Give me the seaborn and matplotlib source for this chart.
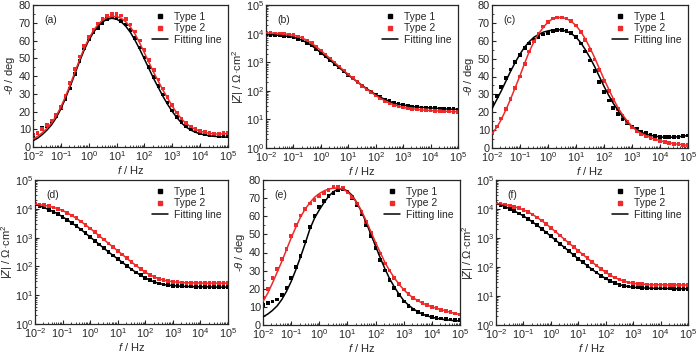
import numpy as np
import pandas as pd
import matplotlib
matplotlib.use("Agg")
import matplotlib.pyplot as plt
from matplotlib.lines import Line2D
from matplotlib.ticker import LogLocator, MultipleLocator, NullFormatter
import seaborn as sns

# frequency points (Hz), 6 per decade
freq = [0.01, 0.0147, 0.0215, 0.0316, 0.0464, 0.0681,
        0.1, 0.147, 0.215, 0.316, 0.464, 0.681,
        1, 1.47, 2.15, 3.16, 4.64, 6.81,
        10, 14.7, 21.5, 31.6, 46.4, 68.1,
        100, 147, 215, 316, 464, 681,
        1000, 1470, 2150, 3160, 4640, 6810,
        10000, 14700, 21500, 31600, 46400, 68100, 100000]

# (a) phase, deg
a_t1 = [6, 8, 11, 12, 14, 17.5, 22, 27, 33, 41, 48.5, 55.5, 61, 64.5, 67, 70, 72, 73, 72.5, 71, 69, 66,
        61.5, 56, 50.5, 45, 39.5, 34.5, 29.5, 25, 20.5, 17, 14, 11.5, 9.8, 8.7, 7.8, 7.2, 6.8, 6.5, 6.3, 6.2, 6]
a_t2 = [7, 8, 10, 12.5, 15, 18, 22.5, 29, 36, 44, 51, 57, 62, 66, 69.5, 72, 74, 75, 75, 74, 72, 69,
        65, 60, 54.5, 49, 43.5, 38, 33, 28, 23.5, 19.5, 16, 13.5, 11.5, 10, 9, 8.3, 7.8, 7.5, 7.5, 7.7, 8]
a_fit1 = [3.5, 5, 7, 9.5, 12.5, 16.5, 21.5, 27.5, 34, 41, 48, 54.5, 60, 64.5, 68, 70.5, 72, 72.5, 72, 70.5,
          68, 64.5, 60, 55, 49.5, 44, 38.5, 33.5, 28.5, 24, 20, 16.5, 13.5, 11.2, 9.5, 8.3, 7.4, 6.8, 6.3, 6,
          5.8, 5.6, 5.5]
a_fit2 = [4.5, 6, 8, 10.5, 13.5, 17.5, 22.5, 28.5, 35, 42, 49, 55.5, 61, 65.5, 69, 71.5, 73, 73.5, 73.5, 72.5,
          70.5, 67.5, 63.5, 58.5, 53, 47.5, 42, 37, 32, 27.5, 23, 19, 15.8, 13.2, 11.3, 9.9, 8.9, 8.2, 7.7, 7.4,
          7.3, 7.4, 7.6]

# (b) |Z|, ohm cm2
b_t1 = [9330, 9120, 8910, 8710, 8320, 7940, 7410, 6610, 5750, 4790, 3800, 2880, 2140, 1580, 1170, 871, 646,
        479, 355, 269, 204, 155, 120, 93, 74, 60, 50, 43, 37, 34, 32, 29.5, 28.2, 26.9, 26.3, 25.7, 25.1, 24.5,
        24.0, 23.4, 22.9, 22.6, 22.4]
b_t2 = [10700, 10500, 10200, 10000, 9770, 9330, 8710, 7940, 6920, 5750, 4570, 3470, 2570, 1860, 1350, 977,
        708, 513, 372, 275, 204, 151, 115, 89, 69, 55, 45, 37, 32, 29, 26.3, 24.5, 23.4, 22.4, 21.4, 20.9, 20.4,
        20.0, 19.5, 19.1, 19.1, 18.6, 18.6]

# (c) phase, deg
c_t1 = [25, 29, 34, 39, 44, 48, 52, 56, 58.5, 60.5, 62, 63.5, 64.5, 65.5, 66, 66, 65.5, 64.5, 62, 58.5, 54,
        49, 43, 37, 31.5, 26.5, 22.5, 19, 16, 14, 12, 10.5, 9.3, 8.3, 7.3, 6.6, 6.2, 6, 6, 6, 6.3, 6.6, 7]
c_t2 = [8.5, 12, 16.5, 22, 27.5, 33.5, 40, 47, 54, 59.5, 64, 68, 70.5, 72.5, 73, 73, 72.5, 71, 68.5, 65,
        60.5, 55, 49.5, 43.5, 37.5, 32, 27, 22, 18, 14.5, 11.5, 9.5, 8, 6.8, 5.7, 4.8, 4, 3.3, 2.8, 2.4, 2.1,
        1.8, 1.5]
c_fit1 = [22, 27, 32, 37.5, 43, 48, 52.5, 56.5, 59.5, 62, 63.5, 64.8, 65.5, 66, 66.2, 66, 65.3, 64, 62, 59,
          55, 50.5, 45.5, 40, 34.5, 29.5, 25, 21, 17.5, 14.5, 12, 10.2, 8.8, 7.8, 7.1, 6.6, 6.2, 6, 6, 6.1,
          6.3, 6.6, 7]
c_fit2 = [8, 11.5, 16, 21.5, 27.5, 34, 40.5, 47.5, 54, 59.5, 64, 67.5, 70.5, 72.3, 73, 73, 72.3, 70.8, 68.5,
          65.2, 61, 56, 50.5, 44.5, 38.5, 33, 27.5, 22.5, 18.5, 15, 12, 9.8, 8.2, 6.9, 5.8, 4.9, 4.1, 3.4, 2.9,
          2.4, 2.1, 1.8, 1.5]

# (d) |Z|, ohm cm2
d_t1 = [14100, 12600, 11000, 9330, 7940, 6610, 5250, 4170, 3240, 2510, 1910, 1410, 1050, 776, 575, 427, 316,
        240, 182, 138, 105, 79, 62, 49, 40, 33, 28.8, 25.7, 23.4, 22.4, 21.4, 20.9, 20.4, 20.0, 20.0, 19.5,
        19.5, 19.5, 19.5, 19.1, 19.1, 19.1, 19.1]
d_t2 = [14500, 13800, 13200, 12300, 11200, 10000, 8710, 7240, 5890, 4680, 3630, 2750, 2090, 1550, 1150, 851,
        631, 468, 347, 257, 191, 141, 107, 81, 63, 51, 42.7, 37.2, 33.1, 30.9, 29.5, 28.2, 27.5, 26.9, 26.9,
        26.9, 26.3, 26.3, 26.3, 26.3, 26.3, 26.3, 26.3]

# (e) phase, deg
e_t1 = [11, 12, 13, 14, 16.5, 20.5, 26, 32, 38, 46, 54, 60, 65, 68.5, 71, 73, 74.5, 75, 73.5, 70, 66, 61,
        55, 49, 42.5, 36, 30, 25, 20.5, 16.5, 13, 10.5, 8.5, 7, 6, 5.2, 4.5, 4, 3.6, 3.3, 3, 2.8, 2.6]
e_t2 = [15, 20, 26, 31, 36.5, 42, 49, 55, 60.5, 64, 67, 69, 71, 73, 74.5, 76, 76, 75.5, 73.5, 70.5, 67,
        62.5, 57, 51, 45, 39.5, 34, 30, 26, 22.5, 19.5, 17, 15, 13.5, 12, 11, 10, 9.2, 8.4, 7.7, 7, 6.3, 5.8]
e_fit1 = [4.5, 6, 8, 10.5, 14, 18.5, 24, 30.5, 37.5, 45, 53, 59, 63.5, 67.5, 71, 73.5, 75, 75, 74, 71.5,
          67.5, 62.5, 56.5, 50, 43.5, 37, 31, 25.5, 21, 17, 13.5, 11, 9, 7.3, 6, 5, 4.3, 3.7, 3.2, 2.9, 2.6,
          2.4, 2.2]
e_fit2 = [13, 17.5, 23, 29, 35, 41.5, 48, 54, 59.5, 64, 67.5, 70.5, 72.5, 74, 75, 75.5, 75.5, 75, 73.5, 71,
          67.5, 63, 57.5, 51.5, 45.5, 40, 34.5, 30, 26, 22.5, 19.5, 17, 15, 13.5, 12, 11, 10, 9.2, 8.4, 7.7,
          7, 6.3, 5.8]

# (f) |Z|, ohm cm2
f_t1 = [15500, 13800, 12000, 10200, 8510, 7080, 5750, 4570, 3550, 2750, 2090, 1550, 1150, 851, 631, 468,
        347, 257, 191, 145, 110, 83, 64, 50, 40, 33, 28.2, 24.5, 22.4, 21.0, 20.0, 19.5, 19.1, 18.6, 18.6,
        18.2, 18.2, 18.2, 18.2, 17.8, 17.8, 17.8, 17.8]
f_t2 = [15500, 15000, 14100, 13200, 12000, 10700, 9330, 7940, 6460, 5130, 3980, 3020, 2240, 1660, 1230, 891,
        661, 490, 363, 269, 200, 148, 112, 85, 66, 52, 43, 37, 32.4, 29.5, 27.5, 26.3, 25.7, 25.1, 24.5,
        24.5, 24.5, 24.5, 24.0, 24.0, 24.0, 24.0, 24.0]

series = ["Type 1", "Type 2"]
pal = {"Type 1": "#000000", "Type 2": "#ee2a2a"}

sns.set_style("ticks")
plt.rcParams["font.family"] = ["Liberation Sans", "DejaVu Sans"]
plt.rcParams["mathtext.fontset"] = "custom"
plt.rcParams["mathtext.rm"] = "Liberation Sans"
plt.rcParams["mathtext.it"] = "Liberation Sans:italic"
plt.rcParams["axes.linewidth"] = 0.9

W, H = 700, 356
fig = plt.figure(figsize=(7, 3.56), dpi=100)


def make_ax(l, r, t, b):
    return fig.add_axes([l / W, 1 - b / H, (r - l) / W, (b - t) / H])


def frame(v1, v2):
    return pd.DataFrame({"f": freq + freq, "val": v1 + v2,
                         "type": [series[0]] * len(freq) + [series[1]] * len(freq)})


def panel(ax, label, t1, t2, fit1, fit2, kind):
    sns.scatterplot(data=frame(t1, t2), x="f", y="val", hue="type", palette=pal,
                    marker="s", s=7, linewidth=0, legend=False, ax=ax, zorder=2)
    sns.lineplot(data=frame(fit1, fit2), x="f", y="val", hue="type", palette=pal,
                 linewidth=1.1, legend=False, ax=ax, estimator=None, zorder=3)
    ax.set_xscale("log")
    ax.set_xlim(0.01, 1e5)
    ax.xaxis.set_major_locator(LogLocator(base=10, numticks=10))
    ax.xaxis.set_minor_locator(LogLocator(base=10, subs=np.arange(2, 10), numticks=10))
    ax.xaxis.set_minor_formatter(NullFormatter())
    if kind == "phase":
        ax.set_ylim(0, 80)
        ax.yaxis.set_major_locator(MultipleLocator(10))
        ax.yaxis.set_minor_locator(MultipleLocator(5))
        ax.set_ylabel(r"-$\theta$ / deg", fontsize=8, labelpad=1)
    else:
        ax.set_yscale("log")
        ax.set_ylim(1, 1e5)
        ax.yaxis.set_major_locator(LogLocator(base=10, numticks=10))
        ax.yaxis.set_minor_locator(LogLocator(base=10, subs=np.arange(2, 10), numticks=10))
        ax.yaxis.set_minor_formatter(NullFormatter())
        ax.set_ylabel(r"|$Z$| / $\Omega$·cm$^2$", fontsize=8, labelpad=0)
    ax.set_xlabel(r"$f$ / Hz", fontsize=8, labelpad=1)
    ax.tick_params(which="major", direction="in", length=3, width=0.8, labelsize=7.8, pad=1.5)
    ax.tick_params(which="minor", direction="in", length=1.6, width=0.6)
    ax.text(0.06, 0.93, label, transform=ax.transAxes, fontsize=7.5, va="top")
    handles = [Line2D([], [], marker="s", ls="none", color=pal["Type 1"], ms=3),
               Line2D([], [], marker="s", ls="none", color=pal["Type 2"], ms=3),
               Line2D([], [], color="k", lw=1.1)]
    ax.legend(handles, ["Type 1", "Type 2", "Fitting line"], loc="upper right", frameon=False,
              fontsize=7.5, handlelength=1.6, handletextpad=0.5, labelspacing=0.15,
              borderaxespad=0.25)


panel(make_ax(33, 228, 5, 147), "(a)", a_t1, a_t2, a_fit1, a_fit2, "phase")
panel(make_ax(266, 458, 5, 148), "(b)", b_t1, b_t2, b_t1, b_t2, "mod")
panel(make_ax(492, 688, 5, 148), "(c)", c_t1, c_t2, c_fit1, c_fit2, "phase")
panel(make_ax(35, 228, 180, 324), "(d)", d_t1, d_t2, d_t1, d_t2, "mod")
panel(make_ax(263, 460, 180, 325), "(e)", e_t1, e_t2, e_fit1, e_fit2, "phase")
panel(make_ax(496, 688, 180, 325), "(f)", f_t1, f_t2, f_t1, f_t2, "mod")

fig.savefig("out.png", dpi=100)
